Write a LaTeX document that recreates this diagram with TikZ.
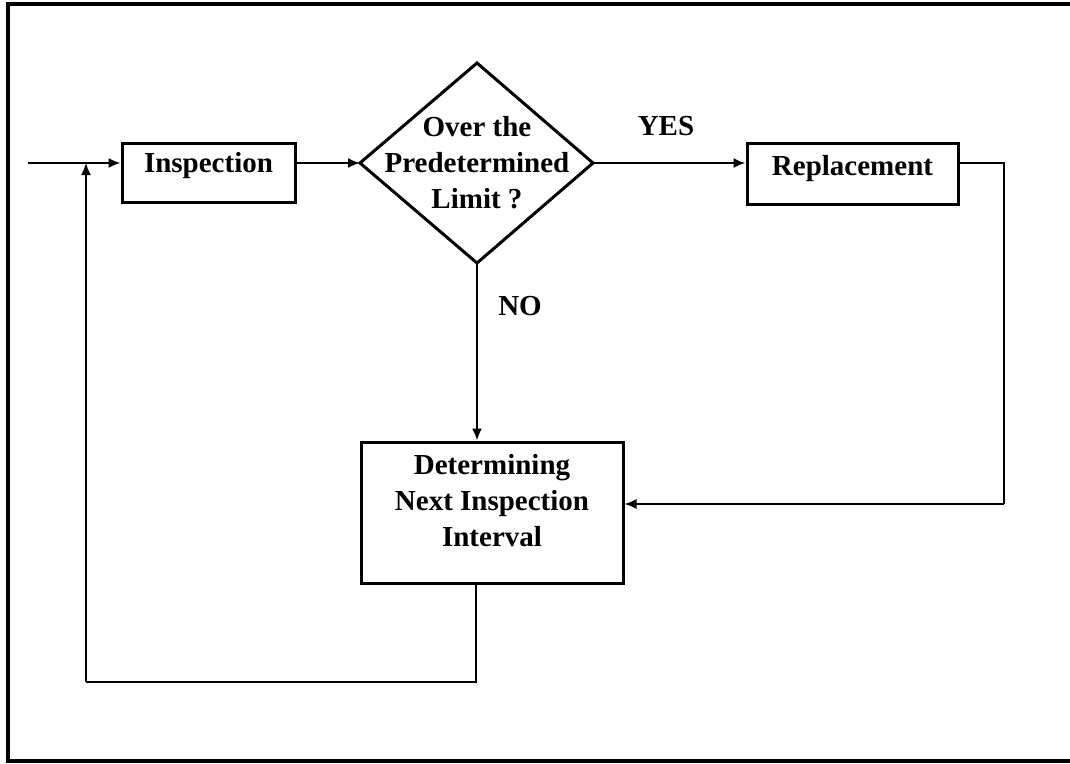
\documentclass[tikz,border=0pt]{standalone}
\usepackage{fontspec}
\setmainfont{Liberation Serif}
\usetikzlibrary{arrows.meta}
\begin{document}
\begin{tikzpicture}[x=1pt,y=-1pt,
  every node/.style={font=\fontsize{29}{36}\selectfont\bfseries},
  box/.style={draw,line width=3pt,inner sep=0pt},
  lbl/.style={inner sep=0pt,anchor=base},
  arr/.style={line width=2pt,-{Latex[length=12pt,width=10pt]}},
  loop/.style={line width=1.5pt},
  frame/.style={line width=3.5pt}]
\useasboundingbox (0,0) rectangle (1070,763);
% frame
\coordinate (f1) at (1070,4);
\coordinate (f2) at (8,4);
\coordinate (f3) at (8,761);
\coordinate (f4) at (1070,761);
\draw[frame] (f1) -- (f2) -- (f3) -- (f4);
% nodes
\node[box,minimum width=173pt,minimum height=59pt,text height=10pt,text depth=10pt] (insp) at (208.5,172.5) {Inspection};
\node[box,minimum width=211pt,minimum height=61pt,text height=10pt,text depth=6pt] (rep) at (852.5,173.5) {Replacement};
\node[box,minimum width=262pt,minimum height=141pt,
  label={[align=center,inner sep=0pt,yshift=12pt]center:{Determining\\Next Inspection\\Interval}}] (det) at (492,512.5) {};
% diamond
\coordinate (dt) at (477,63);
\coordinate (dr) at (593,163);
\coordinate (db) at (477,263);
\coordinate (dl) at (360,163);
\draw[line width=3pt,line join=miter] (dt) -- (dr) -- (db) -- (dl) -- cycle;
\node[align=center,inner sep=0pt] (q) at (477,163) {Over the\\Predetermined\\Limit ?};
% labels
\node[lbl] (yes) at (666,135) {YES};
\node[lbl] (no) at (520,315) {NO};
% connectors
\coordinate (start) at (28,163);
\draw[arr] (start) -- (start -| insp.west);
\draw[arr] (start -| insp.east) -- (dl);
\draw[arr] (dr) -- (dr -| rep.west);
\draw[arr] (db) -- (db |- det.north);
\coordinate (c1) at (1004,163);
\coordinate (c2) at (1004,504);
\draw[loop] (c1 -| rep.east) -- (c1) -- (c2);
\draw[arr,line width=1.5pt] (c2) -- (c2 -| det.east);
\coordinate (b1) at (476,682);
\coordinate (b2) at (86,682);
\coordinate (b3) at (86,163);
\draw[loop] (b1 |- det.south) -- (b1) -- (b2);
\draw[arr,line width=1.5pt] (b2) -- (b3);
\end{tikzpicture}
\end{document}
